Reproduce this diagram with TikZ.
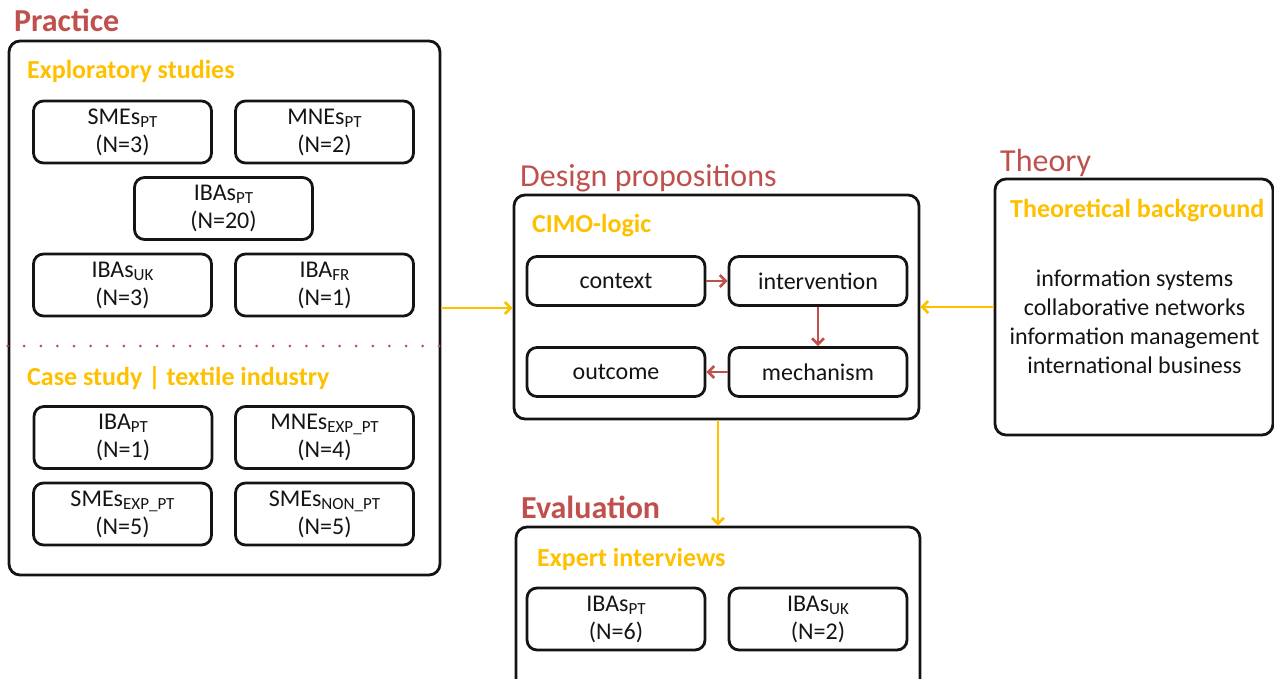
\documentclass[tikz,border=0pt]{standalone}
\usepackage{fontspec}
\setmainfont{Carlito}
\usetikzlibrary{arrows.meta}
\definecolor{accred}{HTML}{C0504D}
\definecolor{accgold}{HTML}{FFC000}
\definecolor{ink}{HTML}{141414}
% small lowered index after a group name
\newcommand\lo[1]{\raisebox{-0.14em}{\fontsize{17}{17}\selectfont #1}}

\begin{document}
\begin{tikzpicture}[x=1pt,y=-1pt,
  frame/.style={draw=ink, line width=2.8pt, rounded corners=11pt, inner sep=0pt},
  item/.style={draw=ink, line width=2.8pt, rounded corners=10pt, minimum width=178pt,
    minimum height=62pt, inner sep=0pt, align=center, text=ink,
    font=\fontsize{24}{28}\selectfont},
  cimo/.style={item, minimum height=49pt},
  heading/.style={anchor=base west, inner sep=0pt, text=accred, font=\fontsize{32}{36}\selectfont},
  sublabel/.style={anchor=base west, inner sep=0pt, text=accgold, font=\bfseries\fontsize{26}{30}\selectfont},
  flow/.style={draw=accgold, line width=2.6pt, -{Straight Barb[length=6pt,width=12pt]}},
  logic/.style={draw=accred, line width=2.6pt, -{Straight Barb[length=6pt,width=12pt]}}
]
\useasboundingbox (0,0) rectangle (1274,679);

% ---------- Practice ----------
\node[heading, font=\bfseries\fontsize{32}{36}\selectfont] (tpractice) at (14,32) {Practice};
\node[frame, minimum width=431pt, minimum height=534pt] (practice) at (224.5,308) {};
\node[sublabel] (lexpl) at (27,79) {Exploratory studies};
\node[item] (smes) at (122.5,132) {SMEs\lo{PT}\\(N=3)};
\node[item] (mnes) at (324.5,132) {MNEs\lo{PT}\\(N=2)};
\node[item] (ibaspt) at (223.5,208.5) {IBAs\lo{PT}\\(N=20)};
\node[item] (ibasuk) at (122.5,285) {IBAs\lo{UK}\\(N=3)};
\node[item] (ibafr) at (324.5,285) {IBA\lo{FR}\\(N=1)};
\draw[accred, line width=3pt, line cap=round, dash pattern=on 0pt off 16.6pt]
  (practice.west |- 0,346) -- (practice.east |- 0,346);
\node[sublabel] (lcase) at (27,385) {Case study | textile industry};
\node[item] (ibapt) at (123,437.5) {IBA\lo{PT}\\(N=1)};
\node[item] (mnesexp) at (324.5,437.5) {MNEs\lo{EXP\_PT}\\(N=4)};
\node[item] (smesexp) at (122.5,514) {SMEs\lo{EXP\_PT}\\(N=5)};
\node[item] (smesnon) at (324.5,514) {SMEs\lo{NON\_PT}\\(N=5)};

% ---------- Design propositions ----------
\node[heading] (tdesign) at (520,187) {Design propositions};
\node[frame, minimum width=405pt, minimum height=224pt] (design) at (716.5,307) {};
\node[sublabel] (lcimo) at (532,233) {CIMO-logic};
\node[cimo] (context) at (616,281) {context};
\node[cimo] (interv) at (818,281) {intervention};
\node[cimo] (outcome) at (616,372) {outcome};
\node[cimo] (mech) at (818,372) {mechanism};
\draw[logic] (context) -- (interv);
\draw[logic] (interv) -- (mech);
\draw[logic] (mech) -- (outcome);

% ---------- Theory ----------
\node[heading] (ttheory) at (1000,172) {Theory};
\node[frame, minimum width=278pt, minimum height=256pt] (theory) at (1134,307) {};
\node[sublabel] (ltheory) at (1010,218) {Theoretical background};
\node[align=center, inner sep=0pt, text=ink, font=\fontsize{24}{28.8}\selectfont, anchor=north]
  (fields) at (1134.5,270) {information systems\\collaborative networks\\information management\\international business};

% ---------- Evaluation ----------
\node[heading, font=\bfseries\fontsize{32}{36}\selectfont] (teval) at (521,518) {Evaluation};
\node[frame, minimum width=404pt, minimum height=180pt] (eval) at (718,617) {};
\node[sublabel] (lexpert) at (537,566) {Expert interviews};
\node[item] (evpt) at (616,619) {IBAs\lo{PT}\\(N=6)};
\node[item] (evuk) at (818,619) {IBAs\lo{UK}\\(N=2)};

% ---------- flows between the parts ----------
\draw[flow] (practice.east) -- (practice.east -| design.west);
\draw[flow] (theory.west) -- (theory.west -| design.east);
\draw[flow] (design.south -| 718,0) -- (eval.north);
\end{tikzpicture}
\end{document}
